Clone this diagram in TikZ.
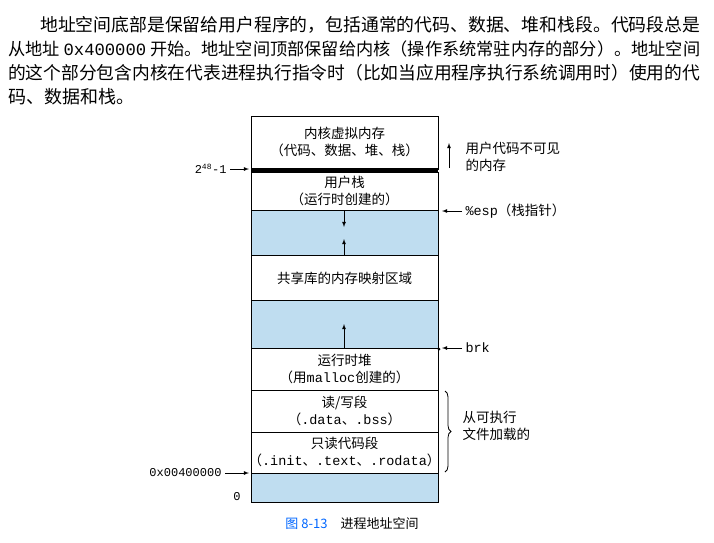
\documentclass[tikz,border=0pt]{standalone}
\usepackage{fontspec}
\setmainfont{Noto Sans CJK SC}
\setmonofont{Liberation Mono}
\usetikzlibrary{positioning,decorations.pathreplacing}
\definecolor{gapblue}{HTML}{BFDDF0}
\tikzset{
  seg/.style={draw,thick,fill=white},
  gap/.style={draw,thick,fill=gapblue},
  lab/.style={font=\fontsize{13.5}{17}\selectfont,align=center},
  side/.style={font=\fontsize{13.5}{17}\selectfont,align=left},
  para/.style={anchor=west,font=\fontsize{18}{24}\selectfont,inner sep=0pt},
  ptr/.style={-latex,thick}
}
\begin{document}
\begin{tikzpicture}[x=1pt,y=-1pt]
\useasboundingbox (0,0) rectangle (714,542);
% text above the figure
\node[para] (p1) at (40,25) {\resizebox{660pt}{!}{地址空间底部是保留给用户程序的，包括通常的代码、数据、堆和栈段。代码段总是}};
\node[para] (p2) at (8,49) {\resizebox{692pt}{!}{从地址 \texttt{0x400000} 开始。地址空间顶部保留给内核（操作系统常驻内存的部分）。地址空间}};
\node[para] (p3) at (8,73) {\resizebox{692pt}{!}{的这个部分包含内核在代表进程执行指令时（比如当应用程序执行系统调用时）使用的代}};
\node[para] (p4) at (8,97) {码、数据和栈。};
% the segments
\draw[seg] (251,116) rectangle (438,169);
\fill (251,168) rectangle (438,172);
\draw[seg] (251,172) rectangle (438,210);
\draw[gap] (251,210) rectangle (438,255);
\draw[seg] (251,255) rectangle (438,300);
\draw[gap] (251,300) rectangle (438,348);
\draw[seg] (251,348) rectangle (438,390);
\draw[seg] (251,390) rectangle (438,432);
\draw[seg] (251,432) rectangle (438,473);
\draw[gap] (251,473) rectangle (438,502);
\node[lab] (kern) at (344.5,142) {内核虚拟内存\\（代码、数据、堆、栈）};
\node[lab] (ustack) at (344.5,191) {用户栈\\（运行时创建的）};
\node[lab] (shlib) at (344.5,278) {共享库的内存映射区域};
\node[lab] (heap) at (344.5,369) {运行时堆\\（用\texttt{malloc}创建的）};
\node[lab] (rw) at (344.5,411) {读/写段\\（\texttt{.data}、\texttt{.bss}）};
\node[lab] (ro) at (344.5,452) {只读代码段\\（\texttt{.init}、\texttt{.text}、\texttt{.rodata}）};
% growth arrows
\coordinate (sd1) at (344,211); \coordinate (sd2) at (344,227);
\coordinate (su1) at (344,255); \coordinate (su2) at (344,239);
\coordinate (hu1) at (344,348); \coordinate (hu2) at (344,324);
\draw[ptr] (sd1) -- (sd2);
\draw[ptr] (su1) -- (su2);
\draw[ptr] (hu1) -- (hu2);
% labels at the left
\node[side,font=\fontsize{12}{14}\ttfamily,anchor=east] (top) at (230,169) {2$^{\mathtt{48}}$-1};
\coordinate (topE) at (249,169);
\draw[ptr] (top) -- (topE);
\node[side,font=\fontsize{12}{14}\ttfamily,anchor=east] (code) at (225,473) {0x00400000};
\coordinate (codeE) at (249,473);
\draw[ptr] (code) -- (codeE);
\node[side,font=\fontsize{12}{14}\ttfamily,anchor=east] (zero) at (244,497) {0};
% labels at the right
\coordinate (invA) at (449,168); \coordinate (invB) at (449,143);
\draw[ptr] (invA) -- (invB);
\node[side,anchor=west] (inv) at (462,157) {用户代码不可见\\的内存};
\node[side,anchor=west] (esp) at (462,211) {\texttt{\%esp}（栈指针）};
\coordinate (espE) at (442,211);
\draw[ptr] (esp) -- (espE);
\node[side,anchor=west] (brk) at (462,348) {\texttt{brk}};
\coordinate (brkE) at (442,348);
\draw[ptr] (brk) -- (brkE);
\fill (439,349) circle (1.5);
\draw[decorate,decoration={brace,amplitude=6pt},thick] (445,391) -- (445,472);
\node[side,anchor=west] (load) at (459,426) {从可执行\\文件加载的};
% caption
\node[font=\fontsize{13}{15}\selectfont] (cap) at (352,524) {\textcolor{blue!60!cyan}{图 8-13}\quad 进程地址空间};
\end{tikzpicture}
\end{document}
